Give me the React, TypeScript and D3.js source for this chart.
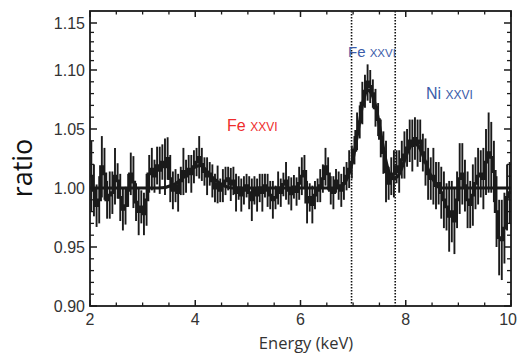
import React from "react";
import * as d3 from "d3";

// bins of 0.05 keV starting at 2.0 keV
const binStart = 2.0;
const binWidth = 0.05;

const ratio = [
  1.010, 0.998, 0.985, 0.990, 1.018, 1.012, 0.990, 0.994, 0.996, 1.010, 1.006, 0.992, 0.982, 0.985, 0.998, 1.012,
  1.005, 0.988, 0.980, 0.984, 0.978, 0.990, 1.012, 1.016, 1.010, 1.019, 1.015, 1.022, 1.018, 1.025, 1.008, 0.998,
  1.002, 0.996, 1.006, 1.014, 1.010, 1.016, 1.012, 1.018, 1.022, 1.026, 1.020, 1.014, 1.010, 1.012, 1.006, 1.000,
  1.003, 0.998, 1.002, 1.006, 1.008, 1.003, 1.006, 0.996, 1.000, 0.994, 0.998, 1.002, 0.996, 0.990, 0.998, 0.994,
  1.000, 0.996, 1.002, 0.998, 0.994, 0.990, 0.992, 1.000, 0.996, 1.003, 1.006, 0.998, 0.995, 1.001, 0.997, 1.004,
  1.010, 1.014, 0.988, 0.992, 0.986, 0.994, 0.998, 1.002, 1.008, 1.018, 1.012, 0.998, 0.996, 1.006, 1.002, 0.998,
  1.004, 1.010, 1.016, 1.022, 1.032, 1.048, 1.056, 1.072, 1.082, 1.090, 1.086, 1.080, 1.068, 1.058, 1.042, 1.030,
  1.014, 1.004, 1.010, 1.012, 1.018, 1.014, 1.024, 1.028, 1.034, 1.040, 1.036, 1.042, 1.038, 1.040, 1.030, 1.022,
  1.012, 1.008, 1.010, 1.002, 1.004, 0.996, 0.990, 0.984, 0.976, 0.980, 0.972, 0.990, 1.008, 1.012, 1.002, 0.990,
  0.986, 0.994, 1.004, 1.010, 1.012, 1.008, 1.022, 1.030, 1.026, 1.014, 0.980, 0.958, 0.956, 0.966, 0.992, 0.996,
];

const err = [
  0.030, 0.022, 0.018, 0.020, 0.026, 0.022, 0.016, 0.020, 0.018, 0.024, 0.015, 0.020, 0.018, 0.016, 0.014, 0.018,
  0.022, 0.016, 0.020, 0.014, 0.018, 0.022, 0.016, 0.018, 0.014, 0.016, 0.020, 0.015, 0.024, 0.018, 0.020, 0.016,
  0.014, 0.016, 0.012, 0.020, 0.014, 0.012, 0.016, 0.014, 0.012, 0.018, 0.014, 0.012, 0.016, 0.010, 0.014, 0.012,
  0.016, 0.010, 0.014, 0.012, 0.010, 0.014, 0.012, 0.016, 0.010, 0.014, 0.012, 0.010, 0.014, 0.018, 0.012, 0.014,
  0.012, 0.016, 0.010, 0.014, 0.012, 0.016, 0.010, 0.014, 0.012, 0.010, 0.016, 0.012, 0.014, 0.010, 0.012, 0.014,
  0.016, 0.014, 0.018, 0.012, 0.016, 0.012, 0.010, 0.014, 0.012, 0.016, 0.014, 0.012, 0.014, 0.010, 0.012, 0.014,
  0.014, 0.012, 0.016, 0.014, 0.012, 0.016, 0.014, 0.018, 0.014, 0.016, 0.014, 0.012, 0.016, 0.014, 0.016, 0.018,
  0.026, 0.014, 0.016, 0.020, 0.014, 0.018, 0.016, 0.020, 0.016, 0.018, 0.022, 0.018, 0.020, 0.018, 0.016, 0.020,
  0.022, 0.018, 0.024, 0.020, 0.018, 0.022, 0.024, 0.020, 0.030, 0.026, 0.028, 0.024, 0.030, 0.026, 0.022, 0.024,
  0.020, 0.026, 0.022, 0.024, 0.020, 0.026, 0.028, 0.034, 0.030, 0.026, 0.030, 0.032, 0.034, 0.030, 0.028, 0.026,
];

// continuum + gaussian line model
const modelE = [2.0, 3.3, 3.6, 3.8, 4.0, 4.1, 4.3, 4.5, 4.7, 6.7, 6.85, 7.0, 7.1, 7.2, 7.28, 7.35, 7.45, 7.55, 7.65, 7.75,
  7.85, 7.95, 8.05, 8.15, 8.25, 8.35, 8.45, 8.55, 8.65, 10.0];
const modelR = [1.0, 1.0, 1.003, 1.01, 1.018, 1.019, 1.01, 1.003, 1.0, 1.0, 1.005, 1.025, 1.05, 1.075, 1.083, 1.08, 1.065,
  1.04, 1.018, 1.008, 1.01, 1.02, 1.032, 1.038, 1.035, 1.025, 1.013, 1.005, 1.0, 1.0];

const xTicks = [2, 4, 6, 8, 10];
const yTicks = [0.9, 0.95, 1.0, 1.05, 1.1, 1.15];
const lineMarkers = [6.97, 7.8];

const W = 518;
const H = 354;
const left = 90, right = 511, top = 11, bottom = 306;

export default function App() {
  const x = d3.scaleLinear().domain([2, 10]).range([left, right]);
  // the figure's y axis is slightly compressed above 1.10
  const y = d3.scaleLinear().domain([0.9, 1.1, 1.15]).range([bottom, 70, 23]);

  const bins = ratio.map((v, i) => ({
    lo: binStart + i * binWidth,
    hi: binStart + (i + 1) * binWidth,
    v,
    e: err[i],
  }));

  const stepPts: [number, number][] = [];
  bins.forEach((b) => {
    stepPts.push([x(b.lo), y(b.v)]);
    stepPts.push([x(b.hi), y(b.v)]);
  });
  const stepPath = d3.line()(stepPts) || "";

  const model = modelE.map((e, i) => [x(e), y(modelR[i])] as [number, number]);
  const modelPath = d3.line().curve(d3.curveMonotoneX)(model) || "";

  const xMinor = d3.range(2, 10.001, 0.5).filter((t) => !xTicks.some((m) => Math.abs(m - t) < 1e-6));
  const yMinor = d3.range(0.9, 1.1501, 0.01).filter((t) => !yTicks.some((m) => Math.abs(m - t) < 1e-6));

  const labelFont = "'Liberation Sans', Arial, sans-serif";
  const lastX = xTicks[xTicks.length - 1];

  return (
    <div style={{ position: "absolute", left: 0, top: 0 }}>
      <svg width={W} height={H} style={{ display: "block", background: "#fff" }}>
        <defs>
          <clipPath id="plot">
            <rect x={left} y={top} width={right - left} height={bottom - top} />
          </clipPath>
        </defs>

        {/* marker lines */}
        {lineMarkers.map((e) => (
          <line key={e} x1={x(e)} x2={x(e)} y1={top} y2={bottom} stroke="#111" strokeWidth={1.6} strokeDasharray="1.4,1.6" />
        ))}

        <g clipPath="url(#plot)">
          {/* model */}
          <path d={modelPath} fill="none" stroke="#1a1a1a" strokeWidth={3.2} />
          {/* error bars */}
          {bins.map((b, i) => (
            <line key={i} x1={x((b.lo + b.hi) / 2)} x2={x((b.lo + b.hi) / 2)} y1={y(b.v - b.e)} y2={y(b.v + b.e)}
              stroke="#1a1a1a" strokeWidth={1.9} />
          ))}
          {/* data */}
          <path d={stepPath} fill="none" stroke="#1a1a1a" strokeWidth={2.8} />
        </g>

        {/* frame */}
        <rect x={left} y={top} width={right - left} height={bottom - top} fill="none" stroke="#1a1a1a" strokeWidth={1.8} />

        {/* x ticks, bottom and top */}
        {xTicks.map((t) => (
          <g key={"xt" + t}>
            <line x1={x(t)} x2={x(t)} y1={bottom} y2={bottom - 6} stroke="#1a1a1a" strokeWidth={1.5} />
            <line x1={x(t)} x2={x(t)} y1={top} y2={top + 6} stroke="#1a1a1a" strokeWidth={1.5} />
            <text x={t === lastX ? W - 1 : x(t)} y={325} textAnchor={t === lastX ? "end" : "middle"} fontSize={16}
              fontFamily={labelFont} fill="#333">{t}</text>
          </g>
        ))}
        {xMinor.map((t) => (
          <g key={"xm" + t}>
            <line x1={x(t)} x2={x(t)} y1={bottom} y2={bottom - 3.5} stroke="#1a1a1a" strokeWidth={1.3} />
            <line x1={x(t)} x2={x(t)} y1={top} y2={top + 3.5} stroke="#1a1a1a" strokeWidth={1.3} />
          </g>
        ))}

        {/* y ticks, left and right */}
        {yTicks.map((t) => (
          <g key={"yt" + t}>
            <line x1={left} x2={left + 7} y1={y(t)} y2={y(t)} stroke="#1a1a1a" strokeWidth={1.5} />
            <line x1={right} x2={right - 7} y1={y(t)} y2={y(t)} stroke="#1a1a1a" strokeWidth={1.5} />
            <text x={85} y={y(t) + 5.5} textAnchor="end" fontSize={16} fontFamily={labelFont} fill="#333">{t.toFixed(2)}</text>
          </g>
        ))}
        {yMinor.map((t) => (
          <g key={"ym" + t}>
            <line x1={left} x2={left + 4} y1={y(t)} y2={y(t)} stroke="#1a1a1a" strokeWidth={1.3} />
            <line x1={right} x2={right - 4} y1={y(t)} y2={y(t)} stroke="#1a1a1a" strokeWidth={1.3} />
          </g>
        ))}

        {/* axis titles */}
        <text transform="translate(32,168) rotate(-90)" textAnchor="middle" fontSize={27}
          fontFamily="'Open Sans', sans-serif" fill="#111">ratio</text>
        <text x={306} y={349} textAnchor="middle" fontSize={16.5} fontFamily="'Open Sans', sans-serif" fill="#333">Energy (keV)</text>

        {/* line labels */}
        <text x={227} y={131} fontSize={16} fontFamily={labelFont} fill="#ee2c2c">
          Fe <tspan fontSize={12}>XXVI</tspan>
        </text>
        <text x={348} y={57} fontSize={15} fontFamily={labelFont} fill="#3b5ba9">
          Fe <tspan fontSize={11.5}>XXVI</tspan>
        </text>
        <text x={426} y={99} fontSize={16} fontFamily={labelFont} fill="#3b5ba9">
          Ni <tspan fontSize={12}>XXVI</tspan>
        </text>
      </svg>
    </div>
  );
}
